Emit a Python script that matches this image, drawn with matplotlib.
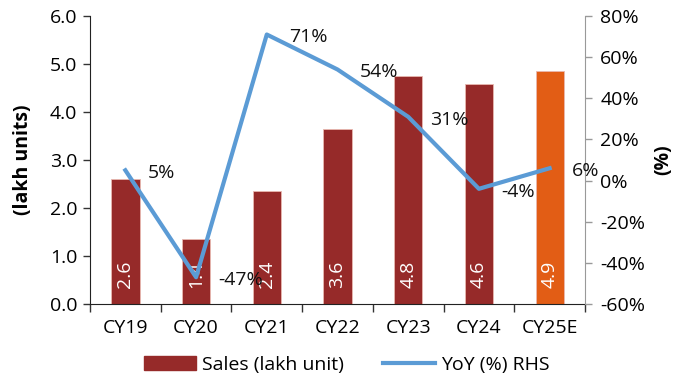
import numpy as np
import matplotlib
matplotlib.use('Agg')
import matplotlib.pyplot as plt
from matplotlib.lines import Line2D
from matplotlib.patches import Patch

plt.rcParams['font.family'] = ['Open Sans', 'DejaVu Sans']

years = ['CY19', 'CY20', 'CY21', 'CY22', 'CY23', 'CY24', 'CY25E']
sales = [2.60, 1.36, 2.36, 3.64, 4.76, 4.58, 4.86]
yoy = [5, -47, 71, 54, 31, -4, 6]

bar_red = '#962A29'
bar_orange = '#E25D15'
line_blue = '#5B9BD5'
fs = 14

fig = plt.figure(figsize=(6.8, 3.78), dpi=100)
ax = fig.add_axes([90/680, 1 - 304/378, 495/680, 288/378])
ax2 = ax.twinx()

x = np.arange(len(years))
colors = [bar_red]*(len(years)-1) + [bar_orange]
ax.bar(x, sales, width=0.4, color=colors, edgecolor='#E8B8B0', linewidth=0.6, zorder=2)
for xi, v in zip(x, sales):
    ax.text(xi, 0.33, f'{v:.1f}', rotation=90, color='white', ha='center', va='bottom',
            fontsize=fs, zorder=3)

ax.set_xlim(-0.5, len(years) - 0.5)
ax.set_ylim(0, 6)
ax.set_yticks(np.arange(0, 6.1, 1))
ax.set_yticklabels([f'{t:.1f}' for t in np.arange(0, 6.1, 1)])
ax.set_xticks(x)
ax.set_xticklabels(years)
ax.set_xticks(np.arange(-0.5, len(years), 1), minor=True)
ax.tick_params(axis='x', which='major', length=0, pad=11, labelsize=fs)
ax.tick_params(axis='x', which='minor', length=6, width=1, color='#333333')
ax.tick_params(axis='y', length=5, width=1, labelsize=fs, pad=4, color='#333333')
ax.set_ylabel('(lakh units)', fontsize=fs, fontweight='bold', labelpad=12)
for s in ['top', 'right']:
    ax.spines[s].set_visible(False)
ax.spines['left'].set_color('#222222')
ax.spines['bottom'].set_color('#222222')

ax2.plot(x, yoy, color=line_blue, linewidth=3, zorder=4)
for xi, v in zip(x, yoy):
    ax2.annotate(f'{v}%', (xi, v), xytext=(16, -2), textcoords='offset points',
                 ha='left', va='center', fontsize=fs, color='#111111')
ax2.set_ylim(-60, 80)
ax2.set_yticks(np.arange(-60, 81, 20))
ax2.set_yticklabels([f'{t}%' for t in range(-60, 81, 20)])
ax2.tick_params(axis='y', length=5, width=1, labelsize=fs, pad=6, color='#999999')
ax2.set_ylabel('(%)', fontsize=fs, fontweight='bold', rotation=90, labelpad=6)
for s in ['top', 'left', 'bottom']:
    ax2.spines[s].set_visible(False)
ax2.spines['right'].set_color('#999999')

handles = [Patch(color=bar_red), Line2D([0], [0], color=line_blue, linewidth=3)]
fig.legend(handles, ['Sales (lakh unit)', 'YoY (%) RHS'], loc='lower center',
           bbox_to_anchor=(0.51, -0.035), ncol=2, frameon=False, fontsize=fs,
           handlelength=2.7, handleheight=0.7, columnspacing=2.0, handletextpad=0.3)

fig.savefig('out.png', dpi=100)
